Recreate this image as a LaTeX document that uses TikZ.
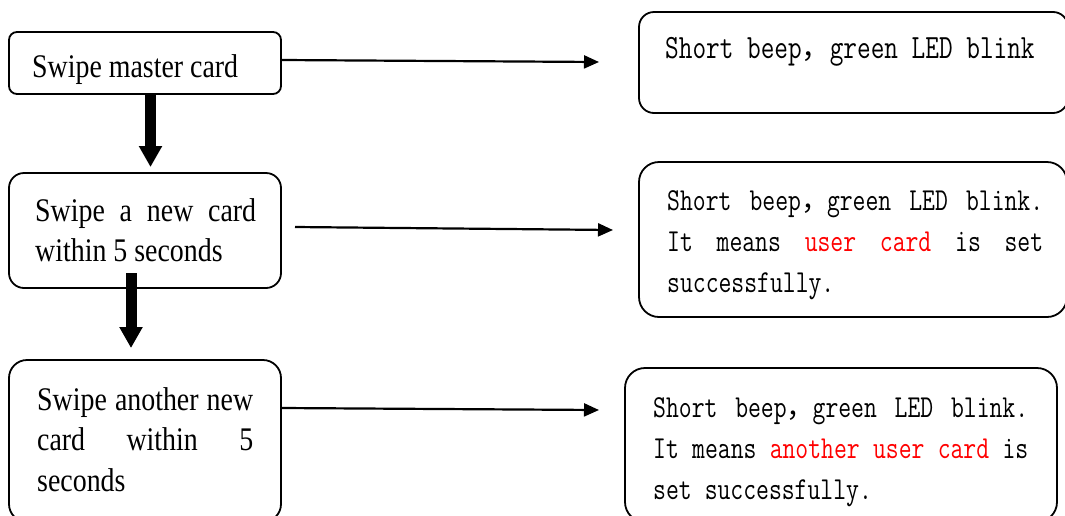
\documentclass[tikz,border=0pt]{standalone}
\usepackage{fontspec}
\usetikzlibrary{arrows.meta,calc}
\newfontfamily\leftfont[FakeStretch=0.845]{Liberation Serif}
\newfontfamily\monofont[FakeStretch=0.78]{Latin Modern Mono}
\newfontfamily\cjkfont{Noto Sans CJK SC}
\definecolor{redtxt}{RGB}{255,0,0}
\newcommand\fwcomma{\makebox[26pt][l]{\cjkfont\fontsize{28}{28}\selectfont ，}}
\newcommand\fwcommab{\makebox[28pt][l]{\cjkfont\fontsize{29}{29}\selectfont ，}}
\begin{document}
\begin{tikzpicture}[x=1pt,y=-1pt,
  box/.style={draw=black, line width=1.8pt, inner sep=0pt, fill=none},
  lefttext/.style={inner sep=0pt, anchor=base west, align=justify,
    font={\leftfont\fontsize{33}{40.5}\selectfont\tolerance=10000\hyphenpenalty=10000\relax}},
  monotext/.style={inner sep=0pt, anchor=base west, align=justify,
    font={\monofont\fontsize{32}{41}\selectfont\spaceskip=13pt plus 30pt minus 2.5pt\relax\tolerance=10000\hyphenpenalty=10000\relax}},
  monowide/.style={inner sep=0pt, anchor=base west,
    font={\monofont\fontsize{34}{41}\selectfont}},
  harrow/.style={line width=2.2pt, -{Triangle[length=15pt,width=13pt]}},
  varrow/.style={line width=11pt, -{Triangle[length=21pt,width=22pt]}}
]
\useasboundingbox (0,0) rectangle (1065,515);
\clip (0,0) rectangle (1065,515);
\fill[white] (0,0) rectangle (1065,515);

% left boxes
\node[box, rounded corners=8pt, minimum width=272pt, minimum height=62pt] (l1) at (145,63) {};
\node[box, rounded corners=15pt, minimum width=272pt, minimum height=115pt] (l2) at (145,230.5) {};
\node[box, rounded corners=18pt, minimum width=272pt, minimum height=162pt] (l3) at (145,441) {};

% right boxes
\node[box, rounded corners=15pt, minimum width=429pt, minimum height=101pt] (r1) at (853.5,62.5) {};
\node[box, rounded corners=20pt, minimum width=428pt, minimum height=155pt] (r2) at (853,239.5) {};
\node[box, rounded corners=20pt, minimum width=432pt, minimum height=154pt] (r3) at (841,445) {};

% left texts
\node[lefttext, text width=230pt] (t1) at (32,77) {Swipe master card};
\node[lefttext, text width=221pt] (t2) at (35,221) {Swipe a new card\linebreak within 5 seconds};
\node[lefttext, text width=216pt] (t3) at (37,410) {Swipe another new\linebreak card within 5\linebreak seconds};

% right texts
\node[monowide] (u1) at (665,58) {Short beep\fwcommab green LED blink};
\node[monotext, text width=376pt] (u2) at (667,210) {Short beep\fwcomma green LED blink.\linebreak It means \textcolor{redtxt}{user card} is set\linebreak successfully.};
\node[monotext, text width=375pt] (u3) at (653,417) {Short beep\fwcomma green LED blink.\linebreak It means \textcolor{redtxt}{another user card} is\linebreak set successfully.};

% horizontal arrows
\coordinate (a1s) at (l1.east |- 0,60);
\coordinate (a1e) at (599,62);
\coordinate (a2s) at (295,227);
\coordinate (a2e) at (613,230);
\coordinate (a3s) at (l3.east |- 0,408);
\coordinate (a3e) at (599,410);
\draw[harrow] (a1s) -- (a1e);
\draw[harrow] (a2s) -- (a2e);
\draw[harrow] (a3s) -- (a3e);

% vertical arrows
\coordinate (v1s) at (l1.south -| 150.5,0);
\coordinate (v1e) at (150.5,167);
\coordinate (v2s) at (131,273);
\coordinate (v2e) at (131,348);
\draw[varrow] (v1s) -- (v1e);
\draw[varrow] (v2s) -- (v2e);
\end{tikzpicture}
\end{document}
